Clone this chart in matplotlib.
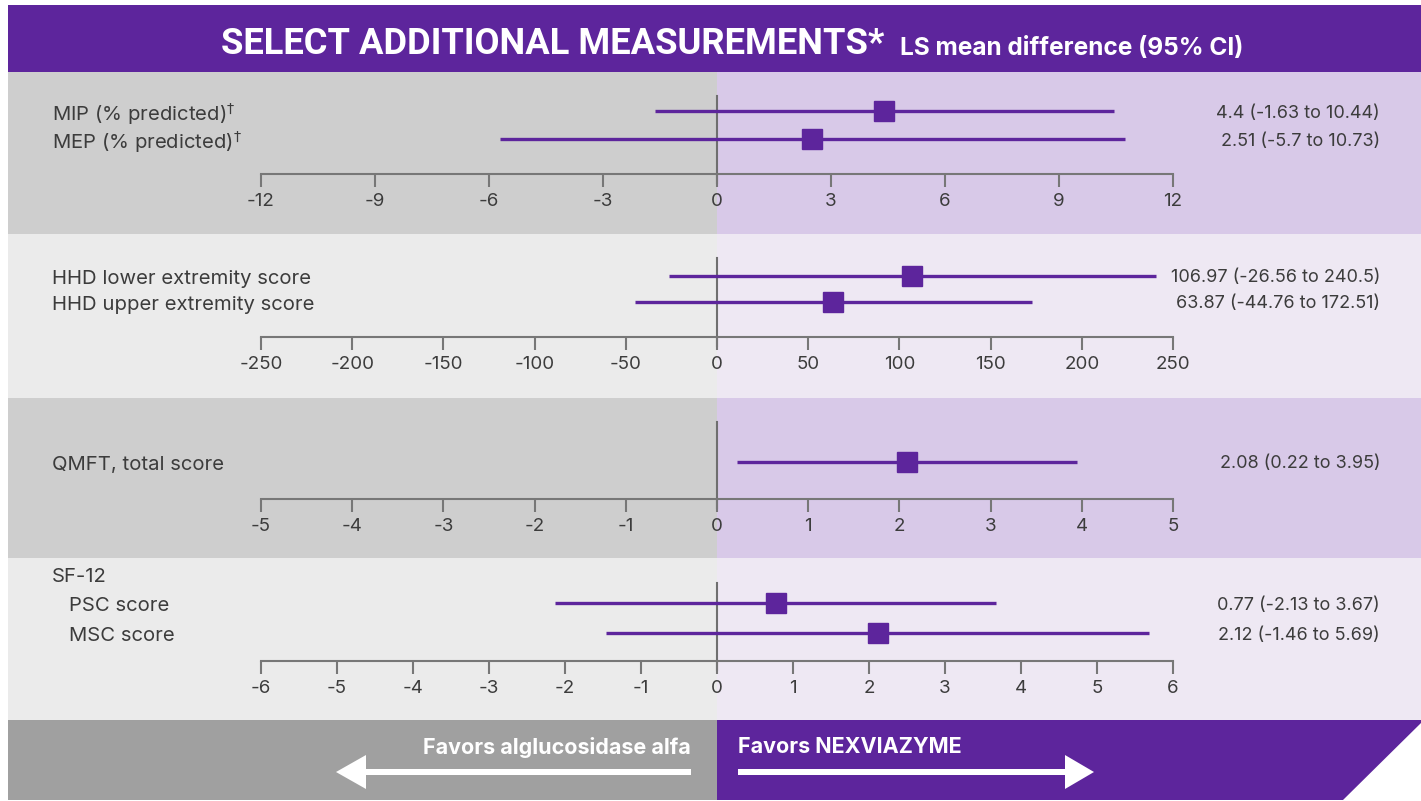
import matplotlib
matplotlib.use("Agg")
import matplotlib.pyplot as plt
from matplotlib.patches import Rectangle, Polygon

plt.rcParams['font.family'] = ['Inter', 'DejaVu Sans']
plt.rcParams['axes.unicode_minus'] = False

# DATA ---------
p1_labels = ["MIP (% predicted)$^{\\dagger}$", "MEP (% predicted)$^{\\dagger}$"]
p1_est = [4.4, 2.51]
p1_lo = [-1.63, -5.7]
p1_hi = [10.44, 10.73]
p1_text = ["4.4 (-1.63 to 10.44)", "2.51 (-5.7 to 10.73)"]
p1_ticks = [-12, -9, -6, -3, 0, 3, 6, 9, 12]

p2_labels = ["HHD lower extremity score", "HHD upper extremity score"]
p2_est = [106.97, 63.87]
p2_lo = [-26.56, -44.76]
p2_hi = [240.5, 172.51]
p2_text = ["106.97 (-26.56 to 240.5)", "63.87 (-44.76 to 172.51)"]
p2_ticks = [-250, -200, -150, -100, -50, 0, 50, 100, 150, 200, 250]

p3_labels = ["QMFT, total score"]
p3_est = [2.08]
p3_lo = [0.22]
p3_hi = [3.95]
p3_text = ["2.08 (0.22 to 3.95)"]
p3_ticks = [-5, -4, -3, -2, -1, 0, 1, 2, 3, 4, 5]

p4_header = "SF-12"
p4_labels = ["PSC score", "MSC score"]
p4_est = [0.77, 2.12]
p4_lo = [-2.13, -1.46]
p4_hi = [3.67, 5.69]
p4_text = ["0.77 (-2.13 to 3.67)", "2.12 (-1.46 to 5.69)"]
p4_ticks = [-6, -5, -4, -3, -2, -1, 0, 1, 2, 3, 4, 5, 6]

# COLOURS / LAYOUT ---------
PURPLE = "#5d259c"
W, H = 1421, 801
X0, XMID, X1 = 8, 717, 1421
AX_L, AX_R = 261, 1173

fig = plt.figure(figsize=(W / 100, H / 100), dpi=100)
bg = fig.add_axes([0, 0, 1, 1])
bg.set_xlim(0, W)
bg.set_ylim(H, 0)
bg.axis("off")

# header
bg.add_patch(Rectangle((X0, 5), X1 - X0, 67, color=PURPLE, lw=0))
bg.text(553, 44, "SELECT ADDITIONAL MEASUREMENTS*", color="white", fontsize=26.2,
        fontweight="bold", ha="center", va="center", family="Roboto")
bg.text(900, 48, "LS mean difference (95% CI)", color="white", fontsize=17.6,
        fontweight="bold", ha="left", va="center")

# panels: (top, bottom, left colour, right colour, axis y, row ys, zero line top)
panels = [
    (72, 234, "#cecece", "#d8c9e8", 174, [111, 139], 96,
     p1_labels, p1_est, p1_lo, p1_hi, p1_text, p1_ticks, 0),
    (234, 398, "#ebebeb", "#eee8f3", 337, [276, 302], 258,
     p2_labels, p2_est, p2_lo, p2_hi, p2_text, p2_ticks, 0),
    (398, 558, "#cecece", "#d8c9e8", 499, [462], 422,
     p3_labels, p3_est, p3_lo, p3_hi, p3_text, p3_ticks, 0),
    (558, 720, "#ebebeb", "#eee8f3", 661, [603, 633], 583,
     p4_labels, p4_est, p4_lo, p4_hi, p4_text, p4_ticks, 17),
]

for (top, bot, cl, cr, axy, rows, ztop, labels, est, lo, hi, txt, ticks, indent) in panels:
    bg.add_patch(Rectangle((X0, top), XMID - X0, bot - top, color=cl, lw=0))
    bg.add_patch(Rectangle((XMID, top), X1 - XMID, bot - top, color=cr, lw=0))
    for r, lab, t in zip(rows, labels, txt):
        bg.text(52 + indent, r + 3, lab, fontsize=14.6, color="#3c3c3c", ha="left", va="center")
        bg.text(1380, r + 2, t, fontsize=13, color="#3c3c3c", ha="right", va="center")

    ax = fig.add_axes([AX_L / W, (H - axy) / H, (AX_R - AX_L) / W, (axy - top) / H])
    ax.set_xlim(ticks[0], ticks[-1])
    ax.set_ylim(axy, top)
    ax.patch.set_visible(False)
    for s in ["top", "left", "right"]:
        ax.spines[s].set_visible(False)
    ax.spines["bottom"].set_color("#777777")
    ax.spines["bottom"].set_linewidth(1.5)
    ax.set_yticks([])
    ax.set_xticks(ticks)
    ax.set_xticklabels([str(t) for t in ticks])
    ax.tick_params(axis="x", direction="out", length=9, width=1.5, color="#777777",
                   labelsize=13.5, labelcolor="#3c3c3c", pad=5)
    ax.plot([0, 0], [axy + 9, ztop], color="#6f6f6f", lw=1.5, clip_on=False, zorder=1)
    ax.hlines(rows, lo, hi, color=PURPLE, lw=2.4, zorder=2)
    ax.plot(est, rows, "s", color=PURPLE, markersize=14.5, zorder=3)

bg.text(52, 577, p4_header, fontsize=14.6, color="#3c3c3c", ha="left", va="center")

# footer
bg.add_patch(Rectangle((X0, 720), XMID - X0, 80, color="#a0a0a0", lw=0))
bg.add_patch(Polygon([(XMID, 720), (X1, 720), (X1, 723), (1343, 800), (XMID, 800)],
                     closed=True, color=PURPLE, lw=0))
bg.text(691, 747, "Favors alglucosidase alfa", color="white", fontsize=15.5,
        fontweight="bold", ha="right", va="center")
bg.text(738, 747, "Favors NEXVIAZYME", color="white", fontsize=15.5,
        fontweight="bold", ha="left", va="center")
bg.add_patch(Rectangle((365, 769), 691 - 365, 6, color="white", lw=0))
bg.add_patch(Polygon([(336, 772), (366, 755), (366, 789)], closed=True, color="white", lw=0))
bg.add_patch(Rectangle((738, 769), 1066 - 738, 6, color="white", lw=0))
bg.add_patch(Polygon([(1094, 772), (1065, 755), (1065, 789)], closed=True, color="white", lw=0))

fig.savefig("out.png", dpi=100)
